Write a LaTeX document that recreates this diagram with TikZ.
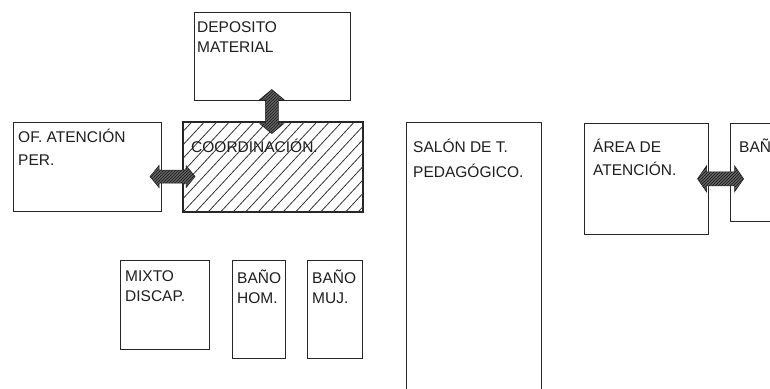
\documentclass[tikz,border=0pt]{standalone}
\usepackage{fontspec}
\setmainfont{Liberation Sans}
\usetikzlibrary{patterns,calc}
\tikzset{
  room/.style={draw=black!85, line width=1.1pt, fill=white, rectangle, inner sep=0pt, anchor=north west},
  roomline/.style={draw=black!85, line width=1.1pt},
  lbl/.style={anchor=base west, align=left, inner sep=0pt, text=black!88, font=\fontsize{15.5}{#1}\selectfont},
  lbl/.default=23,
  hatchline/.style={draw=black!80, line width=0.8pt},
  arrowbody/.style={fill=black!62, draw=black!85, line width=0.6pt},
  arrowhatch/.style={pattern=north east lines, pattern color=black!90},
}
\begin{document}
\begin{tikzpicture}[x=1pt,y=-1pt]
\clip (0,0) rectangle (770,388);
\fill[white] (0,0) rectangle (770,388);

% rooms
\node[room, minimum width=156, minimum height=88] (dep) at (194,12) {};
\node[room, minimum width=148, minimum height=89] (of) at (13,122) {};
\node[room, minimum width=179, minimum height=89] (coord) at (183,122) {};
\node[room, minimum width=135, minimum height=290] (salon) at (406,122) {};
\node[room, minimum width=124, minimum height=111] (area) at (584,123) {};
\node[room, minimum width=60, minimum height=98] (ban) at (730,123) {};
\node[room, minimum width=89, minimum height=89] (mixto) at (120,260) {};
\node[room, minimum width=53, minimum height=98] (bhom) at (232,260) {};
\node[room, minimum width=55, minimum height=98] (bmuj) at (307,260) {};

% hatching of coordination
\begin{scope}
  \clip (coord.north west) rectangle (coord.south east);
  \foreach \k in {-8,...,15}
    \draw[hatchline] ($(coord.south west)+(12.5*\k,0)$) -- ++(93,-100);
\end{scope}
\draw[roomline] (coord.north west) rectangle (coord.south east);

% labels (anchored at the baseline of the last line)
\node[lbl=20] (tdep) at (197,52) {DEPOSITO\\MATERIAL};
\node[lbl=23] (tof) at (18,165) {OF. ATENCIÓN\\PER.};
\node[lbl] (tcoord) at (191,152) {COORDINACIÓN.};
\node[lbl=25] (tsalon) at (413,177) {SALÓN DE T.\\PEDAGÓGICO.};
\node[lbl=23] (tarea) at (593,175) {ÁREA DE\\ATENCIÓN.};
\node[lbl] (tban) at (739,152) {BAÑ};
\node[lbl=20] (tmixto) at (125,301) {MIXTO\\DISCAP.};
\node[lbl=20] (tbhom) at (237,303) {BAÑO\\HOM.};
\node[lbl=20] (tbmuj) at (312,303) {BAÑO\\MUJ.};

% connector centres
\coordinate (ha) at ($(of.east)!0.5!(coord.west)+(0,9.5)$);
\coordinate (va) at ($(dep.south)!0.5!(coord.north)+(-1,0)$);
\coordinate (ra) at ($(area.east)!0.5!(ban.west)+(1,3)$);

% horizontal arrow OF <-> COORD
\foreach \st in {arrowbody,arrowhatch}
  \path[\st] ($(ha)+(-22.5,0)$) -- ++(9,-11) -- ++(0,4.5) -- ++(27,0) -- ++(0,-4.5)
    -- ++(9,11) -- ++(-9,11) -- ++(0,-4.5) -- ++(-27,0) -- ++(0,4.5) -- cycle;

% vertical arrow DEPOSITO <-> COORD
\foreach \st in {arrowbody,arrowhatch}
  \path[\st] ($(va)+(0,-22)$) -- ++(12,10) -- ++(-5.5,0) -- ++(0,24) -- ++(5.5,0)
    -- ++(-12,10) -- ++(-12,-10) -- ++(5.5,0) -- ++(0,-24) -- ++(-5.5,0) -- cycle;

% right arrow AREA <-> BAN
\foreach \st in {arrowbody,arrowhatch}
  \path[\st] ($(ra)+(-23,0)$) -- ++(9,-13) -- ++(0,6) -- ++(28,0) -- ++(0,-6)
    -- ++(9,13) -- ++(-9,13) -- ++(0,-6) -- ++(-28,0) -- ++(0,6) -- cycle;
\end{tikzpicture}
\end{document}
